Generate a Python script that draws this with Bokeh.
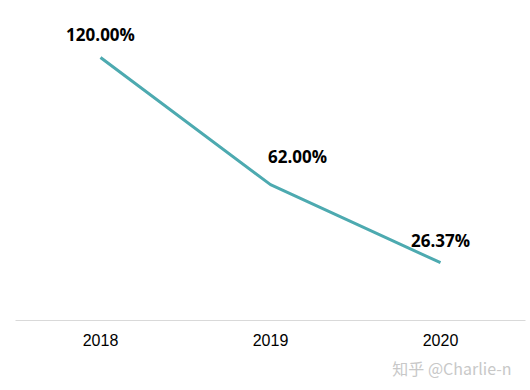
from bokeh.plotting import figure
from bokeh.models import ColumnDataSource, Range1d, Title
from bokeh.core.properties import value
from bokeh.embed import file_html
from bokeh.resources import INLINE

years = ["2018", "2019", "2020"]
rates = [120.00, 62.00, 26.37]
labels = ["120.00%", "62.00%", "26.37%"]
label_dx = [0, 27, 0]
label_dy = [-23, -28, -22]

src = ColumnDataSource(dict(x=years, y=rates, label=labels, dx=label_dx, dy=label_dy))

p = figure(width=530, height=390, x_range=years, y_range=Range1d(0, 139.2),
           output_backend="svg", toolbar_location=None,
           min_border_left=15, min_border_right=5, min_border_top=15, min_border_bottom=70)
p.outline_line_color = None
p.background_fill_color = "white"
p.border_fill_color = "white"
p.xgrid.grid_line_color = None
p.ygrid.grid_line_color = None
p.yaxis.visible = False
p.x_range.range_padding = 0

ax = p.xaxis[0]
ax.axis_line_color = "#D9D9D9"
ax.axis_line_width = 1
ax.major_tick_line_color = None
ax.minor_tick_line_color = None
ax.major_label_text_font = "Liberation Sans"
ax.major_label_text_font_size = "16px"
ax.major_label_text_color = "#000000"
ax.major_label_standoff = 7

p.line("x", "y", source=src, line_color="#4DAAB0", line_width=3)
p.text("x", "y", text="label", source=src, x_offset="dx", y_offset="dy",
       text_align="center", text_baseline="middle",
       text_font=value("Open Sans"), text_font_style="bold",
       text_font_size="17px", text_color="#000000")

wm = Title(text="知乎 @Charlie-n", align="right", text_color="#C8C8C8",
           text_font="Noto Sans CJK SC", text_font_size="16px",
           text_font_style="normal", offset=14)
p.add_layout(wm, "below")

open("out.html", "w").write(file_html(p, INLINE))
